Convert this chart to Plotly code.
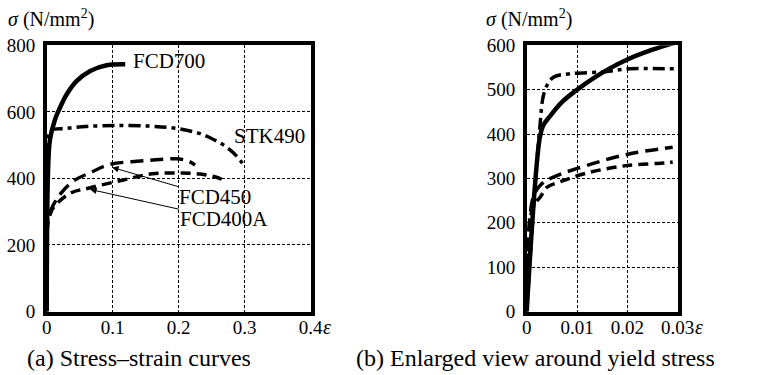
import plotly.graph_objects as go

# ---------- data: (a) overall stress-strain curves ----------
fcd700_eps = [0, 0.002, 0.005, 0.0126, 0.0177, 0.0304, 0.0456, 0.066, 0.091, 0.119]
fcd700_sig = [0, 420, 517, 577, 602, 653, 693, 723, 740, 743]

stk490_eps = [0, 0.002, 0.005, 0.03, 0.06, 0.106, 0.157, 0.197, 0.23, 0.253, 0.27, 0.283, 0.295, 0.301]
stk490_sig = [0, 450, 542, 550, 556, 559, 557, 550, 536, 517, 498, 477, 450, 433]

fcd450_eps = [0, 0.001, 0.005, 0.0202, 0.0404, 0.066, 0.096, 0.142, 0.172, 0.197, 0.215, 0.225]
fcd450_sig = [0, 270, 300, 352, 392, 417, 442, 452, 457, 459, 452, 440]

fcd400a_eps = [0, 0.001, 0.005, 0.01, 0.0354, 0.066, 0.116, 0.16, 0.2, 0.233, 0.255, 0.266]
fcd400a_sig = [0, 250, 290, 312, 355, 372, 395, 414, 416, 413, 405, 397]

# ---------- data: (b) enlarged view around yield stress ----------
fcd700_eps_b = [0, 0.0026, 0.0033, 0.0046, 0.0070, 0.0099, 0.0130, 0.0165, 0.0200, 0.0250, 0.0300]
fcd700_sig_b = [0, 392, 420, 440, 472, 499, 524, 548, 568, 590, 608]

stk490_eps_b = [0, 0.0025, 0.0036, 0.0053, 0.0086, 0.015, 0.0205, 0.029, 0.03]
stk490_sig_b = [0, 400, 498, 528, 536, 540, 547, 547, 547]

fcd450_eps_b = [0, 0.0013, 0.003, 0.0053, 0.0099, 0.0199, 0.029]
fcd450_sig_b = [0, 258, 288, 303, 322, 354, 370]

fcd400a_eps_b = [0, 0.0012, 0.0027, 0.004, 0.0066, 0.0119, 0.0199, 0.0278, 0.029]
fcd400a_sig_b = [0, 235, 258, 280, 292, 312, 329, 335, 337]

# ---------- ticks ----------
xticks_a = [0, 0.1, 0.2, 0.3, 0.4]
xtick_text_a = ["0", "0.1", "0.2", "0.3", "0.4"]
yticks_a = [0, 200, 400, 600, 800]
xticks_b = [0, 0.01, 0.02, 0.03]
xtick_text_b = ["0", "0.01", "0.02", "0.03"]
yticks_b = [0, 100, 200, 300, 400, 500, 600]

W, H = 773, 375


def px(x):
    return x / W


def py(y):
    return 1 - y / H


FONT = "Liberation Serif, Times New Roman, serif"
styles = {
    "FCD700": dict(color="black", width=4.5, dash="solid"),
    "STK490": dict(color="black", width=3.5, dash="12px,5px,4px,5px"),
    "FCD450": dict(color="black", width=3.5, dash="13px,7px"),
    "FCD400A": dict(color="black", width=3.5, dash="10px,6px"),
}

fig = go.Figure()
series_a = [("FCD700", fcd700_eps, fcd700_sig), ("STK490", stk490_eps, stk490_sig),
            ("FCD450", fcd450_eps, fcd450_sig), ("FCD400A", fcd400a_eps, fcd400a_sig)]
series_b = [("FCD700", fcd700_eps_b, fcd700_sig_b), ("STK490", stk490_eps_b, stk490_sig_b),
            ("FCD450", fcd450_eps_b, fcd450_sig_b), ("FCD400A", fcd400a_eps_b, fcd400a_sig_b)]
for name, x, y in series_a:
    fig.add_trace(go.Scatter(x=x, y=y, mode="lines", name=name, line=styles[name],
                             line_shape="spline", xaxis="x", yaxis="y", showlegend=False))
for name, x, y in series_b:
    fig.add_trace(go.Scatter(x=x, y=y, mode="lines", name=name, line=styles[name],
                             line_shape="spline", xaxis="x2", yaxis="y2", showlegend=False))

axis_common = dict(showline=True, linewidth=3.5, linecolor="black", mirror=True,
                   showgrid=True, gridcolor="black", gridwidth=1, griddash="3px,2px",
                   zeroline=False, ticks="", tickfont=dict(family=FONT, size=19, color="black"),
                   fixedrange=True, automargin=False)

ydom = [py(311.5), py(45.3)]
fig.update_layout(
    width=W, height=H, margin=dict(l=0, r=0, t=0, b=0),
    paper_bgcolor="white", plot_bgcolor="white",
    xaxis=dict(domain=[px(46.7), px(310.5)], range=[0, 0.4], tickvals=xticks_a,
               ticktext=xtick_text_a, anchor="y", ticklabelstandoff=-4, **axis_common),
    yaxis=dict(domain=ydom, range=[0, 800], tickvals=yticks_a, anchor="x",
               ticklabelstandoff=4, **axis_common),
    xaxis2=dict(domain=[px(526.7), px(677.7)], range=[0, 0.03], tickvals=xticks_b,
                ticktext=xtick_text_b, anchor="y2", ticklabelstandoff=-4, **axis_common),
    yaxis2=dict(domain=ydom, range=[0, 600], tickvals=yticks_b, anchor="x2",
                ticklabelstandoff=4, **axis_common),
)

tf = dict(family=FONT, size=21, color="black")
tt = dict(family=FONT, size=20, color="black")
cf = dict(family=FONT, size=24, color="black")
ann = []
# axis titles
ann.append(dict(text="<i>σ</i> (N/mm<sup>2</sup>)", xref="paper", yref="paper",
                x=px(6), y=py(18), xanchor="left", yanchor="middle", showarrow=False, font=tt))
ann.append(dict(text="<i>σ</i> (N/mm<sup>2</sup>)", xref="paper", yref="paper",
                x=px(484), y=py(18), xanchor="left", yanchor="middle", showarrow=False, font=tt))
ann.append(dict(text="<i>ε</i>", xref="paper", yref="paper", x=px(321), y=py(327),
                xanchor="left", yanchor="middle", showarrow=False, font=tt))
ann.append(dict(text="<i>ε</i>", xref="paper", yref="paper", x=px(693), y=py(327),
                xanchor="left", yanchor="middle", showarrow=False, font=tt))
# captions
ann.append(dict(text="(a) Stress–strain curves", xref="paper", yref="paper", x=px(25),
                y=py(358), xanchor="left", yanchor="middle", showarrow=False, font=cf))
ann.append(dict(text="(b) Enlarged view around yield stress", xref="paper", yref="paper",
                x=px(354), y=py(358), xanchor="left", yanchor="middle", showarrow=False, font=cf))
# series labels panel (a)
ann.append(dict(text="FCD700", xref="x", yref="y", x=0.128, y=752, xanchor="left",
                yanchor="middle", showarrow=False, font=tf))
ann.append(dict(text="STK490", xref="x", yref="y", x=0.281, y=526, xanchor="left",
                yanchor="middle", showarrow=False, font=tf))
# labels with arrows pointing to the curves
ann.append(dict(text="FCD450", xref="x", yref="y", x=0.0992, y=433, axref="x", ayref="y",
                ax=0.2557, ay=343, showarrow=True, arrowhead=2, arrowsize=1.3, arrowwidth=1,
                arrowcolor="black", font=tf))
ann.append(dict(text="FCD400A", xref="x", yref="y", x=0.0658, y=367, axref="x", ayref="y",
                ax=0.2694, ay=277, showarrow=True, arrowhead=2, arrowsize=1.3, arrowwidth=1,
                arrowcolor="black", font=tf))
# series labels panel (b)
ann.append(dict(text="FCD700", xref="x2", yref="y2", x=0.0248, y=629, xanchor="center",
                yanchor="middle", showarrow=False, font=tf))
ann.append(dict(text="STK490", xref="x2", yref="y2", x=0.0307, y=544, xanchor="left",
                yanchor="middle", showarrow=False, font=tf))
ann.append(dict(text="FCD450", xref="x2", yref="y2", x=0.0307, y=378, xanchor="left",
                yanchor="middle", showarrow=False, font=tf))
ann.append(dict(text="FCD400A", xref="x2", yref="y2", x=0.0307, y=342, xanchor="left",
                yanchor="middle", showarrow=False, font=tf))
fig.update_layout(annotations=ann)

# remove the browser's default 8px page margin so the 773x375 figure fills the window
fig.write_html("out.html", config={"displayModeBar": False},
               post_script="document.body.style.margin='0';document.body.style.overflow='hidden';")
